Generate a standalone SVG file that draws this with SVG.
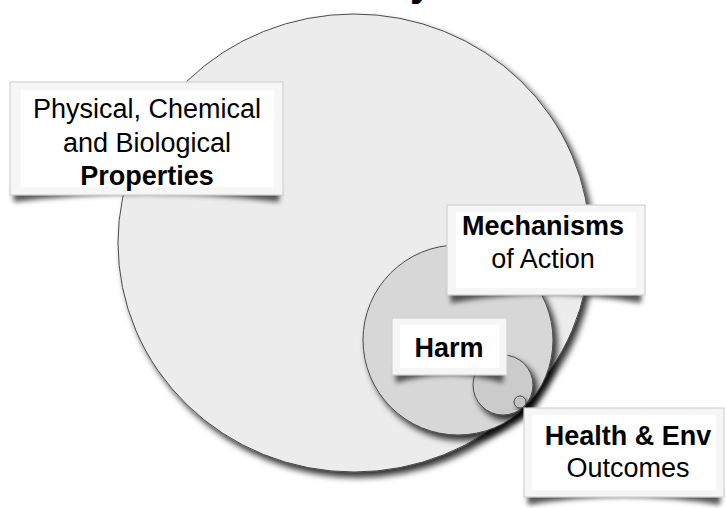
<svg xmlns="http://www.w3.org/2000/svg" width="726" height="508" viewBox="0 0 726 508">
  <defs>
    <filter id="cshadow" x="-10%" y="-10%" width="125%" height="125%">
      <feDropShadow dx="4" dy="5" stdDeviation="3" flood-color="#000" flood-opacity="0.8"/>
    </filter>
    <filter id="blur" x="-10%" y="-50%" width="120%" height="200%">
      <feGaussianBlur stdDeviation="2.5"/>
    </filter>
    <style>
      .circ { stroke: #4a4a4a; stroke-width: 1; filter: url(#cshadow); }
      .c1 { fill: #ececec; }
      .c2 { fill: #d7d7d7; }
      .c3 { fill: #cbcbcb; }
      .c4 { fill: #c2c2c2; }
      .frame { fill: #f6f6f6; stroke: #d2d2d2; stroke-width: 1.2; }
      .inner { fill: #ffffff; }
      .curl { fill: #3a3a3a; opacity: 0.85; filter: url(#blur); }
      text { font-family: "Liberation Sans", Arial, sans-serif; font-size: 27px; fill: #000; text-anchor: middle; }
      .b { font-weight: bold; }
    </style>
  </defs>
  <rect width="726" height="508" fill="#ffffff"/>

  <text class="b" x="421" y="-4" style="font-size:40px">y</text>

  <g id="circles">
    <g id="properties-circle"><ellipse class="circ c1" cx="354" cy="243" rx="236" ry="229"/></g>
    <g id="mechanisms-circle"><circle class="circ c2" cx="458" cy="340" r="95"/></g>
    <g id="harm-circle"><circle class="circ c3" cx="503" cy="385" r="30"/></g>
    <g id="outcomes-circle"><circle class="circ c4" cx="520" cy="402" r="6"/></g>
  </g>

  <g id="connectors"></g>

  <g id="properties-label">
    <path class="curl" d="M13,186 L280,186 L279,202 Q147,186 14,202 Z"/>
    <rect class="frame" x="10" y="82" width="273" height="113"/>
    <rect class="inner" x="21" y="90" width="253" height="97"/>
    <text x="147" y="118">Physical, Chemical</text>
    <text x="147" y="151.5">and Biological</text>
    <text class="b" x="147" y="185">Properties</text>
  </g>

  <g id="mechanisms-label">
    <path class="curl" d="M450,286 L642,286 L641,303 Q545,286 451,303 Z"/>
    <rect class="frame" x="447" y="205" width="198" height="90"/>
    <rect class="inner" x="456" y="212" width="180" height="76"/>
    <text class="b" x="543" y="235">Mechanisms</text>
    <text x="543" y="268">of Action</text>
  </g>

  <g id="harm-label">
    <path class="curl" d="M395,366 L504,366 L503,383 Q449,367 396,383 Z"/>
    <rect class="frame" x="392" y="318" width="115" height="57"/>
    <rect class="inner" x="400" y="325" width="99" height="43"/>
    <text class="b" x="449" y="357">Harm</text>
  </g>

  <g id="outcomes-label">
    <path class="curl" d="M527,488 L721,488 L720,505 Q624,489 528,505 Z"/>
    <rect class="frame" x="524" y="408" width="200" height="89"/>
    <rect class="inner" x="532" y="415" width="184" height="75"/>
    <text class="b" x="628" y="445">Health &amp; Env</text>
    <text x="628" y="477">Outcomes</text>
  </g>
</svg>
